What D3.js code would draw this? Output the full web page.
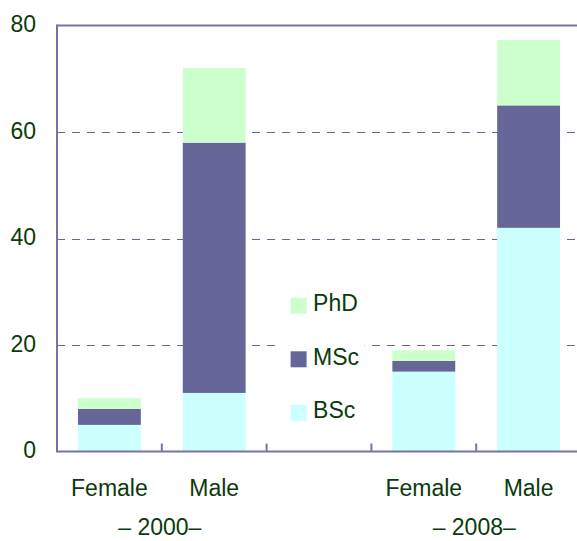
<!DOCTYPE html>
<html>
<head>
<meta charset="utf-8">
<script src="https://cdn.jsdelivr.net/npm/d3@7"></script>
<style>
  body { margin: 0; background: #fff; }
  text { font-family: "Liberation Sans", Arial, sans-serif; fill: #0b3a0b; }
</style>
</head>
<body>
<div class="chart"></div>
<script>
// Chart values
const years = ['2000', '2008'];
const genders = ['Female', 'Male'];
const degrees = ['BSc', 'MSc', 'PhD'];
const bsc = [5, 11, 15, 42];
const msc = [3, 47, 2, 23];
const phd = [2, 14, 2, 12.3];
const yTicks = [0, 20, 40, 60, 80];

const colors = { BSc: '#ccffff', MSc: '#666699', PhD: '#ccffcc' };
const axisColor = '#7474aa';

const width = 577, height = 541;
const margin = { left: 57, top: 25.5, right: -4, bottom: 89.5 };

// slots: two bars per year, one empty slot in between
const slots = ['2000 Female', '2000 Male', 'gap', '2008 Female', '2008 Male'];
const bars = [];
years.forEach((yr, i) => {
  genders.forEach((g, j) => {
    let k = i * 2 + j;
    bars.push({ slot: `${yr} ${g}`, gender: g, BSc: bsc[k], MSc: msc[k], PhD: phd[k] });
  });
});

const svg = d3.select('.chart').append('svg')
  .attr('width', width)
  .attr('height', height);

const xScale = d3.scaleBand()
  .domain(slots)
  .range([margin.left, width - margin.right])
  .padding(0);

const yScale = d3.scaleLinear()
  .domain([0, 80])
  .range([height - margin.bottom, margin.top]);

const barW = xScale.bandwidth() * 0.6;

// Grid lines
svg.append('g')
   .selectAll('line')
   .data(yTicks.filter(d => d > 0 && d < 80))
   .join('line')
   .attr('x1', margin.left)
   .attr('x2', width - margin.right)
   .attr('y1', d => Math.round(yScale(d)) + 0.5)
   .attr('y2', d => Math.round(yScale(d)) + 0.5)
   .attr('stroke', '#66669e')
   .attr('stroke-width', 1)
   .attr('stroke-dasharray', '8,7');

// Stacked bars
const stack = d3.stack().keys(degrees);
const series = stack(bars);

svg.append('g')
   .selectAll('g')
   .data(series)
   .join('g')
   .attr('fill', d => colors[d.key])
   .selectAll('rect')
   .data(d => d)
   .join('rect')
   .attr('x', d => xScale(d.data.slot) + (xScale.bandwidth() - barW) / 2)
   .attr('y', d => yScale(d[1]))
   .attr('width', barW)
   .attr('height', d => yScale(d[0]) - yScale(d[1]));

// Legend (white box cuts the grid line)
const legend = svg.append('g')
  .attr('transform', `translate(${xScale('gap')}, 0)`);

legend.append('rect')
  .attr('x', 14)
  .attr('y', 285)
  .attr('width', 84)
  .attr('height', 145)
  .attr('fill', '#fff');

const legendItems = degrees.slice().reverse();
legendItems.forEach((key, i) => {
  let cy = 305.8 + i * 53.5;
  legend.append('rect')
        .attr('x', 24)
        .attr('y', cy - 8)
        .attr('width', 16)
        .attr('height', 16)
        .attr('fill', colors[key]);
  legend.append('text')
        .attr('x', 46.5)
        .attr('y', cy + 5.5)
        .attr('font-size', 23)
        .text(key);
});

// Axes frame
const x0 = margin.left, x1 = width - margin.right;
const yTop = yScale(80), yBot = yScale(0);

svg.append('line')
   .attr('x1', x0).attr('x2', x1)
   .attr('y1', yTop).attr('y2', yTop)
   .attr('stroke', axisColor).attr('stroke-width', 2);
svg.append('line')
   .attr('x1', x0).attr('x2', x1)
   .attr('y1', yBot).attr('y2', yBot)
   .attr('stroke', axisColor).attr('stroke-width', 2);
svg.append('line')
   .attr('x1', x0).attr('x2', x0)
   .attr('y1', yTop - 1).attr('y2', yBot + 1)
   .attr('stroke', axisColor).attr('stroke-width', 2);

// Category boundary ticks
svg.append('g')
   .selectAll('line')
   .data(slots.slice(1))
   .join('line')
   .attr('x1', d => xScale(d))
   .attr('x2', d => xScale(d))
   .attr('y1', yBot - 8)
   .attr('y2', yBot)
   .attr('stroke', axisColor)
   .attr('stroke-width', 2);

// Y tick labels
svg.append('g')
   .selectAll('text')
   .data(yTicks)
   .join('text')
   .attr('x', 36)
   .attr('y', d => yScale(d) + 6.8)
   .attr('text-anchor', 'end')
   .attr('font-size', 23)
   .text(d => d);

// X category labels
svg.append('g')
   .selectAll('text')
   .data(bars)
   .join('text')
   .attr('x', d => xScale(d.slot) + xScale.bandwidth() / 2)
   .attr('y', 496)
   .attr('text-anchor', 'middle')
   .attr('font-size', 23)
   .text(d => d.gender);

// Year group labels
svg.append('g')
   .selectAll('text')
   .data(years)
   .join('text')
   .attr('x', d => xScale(`${d} Male`) - 2)
   .attr('y', 535)
   .attr('text-anchor', 'middle')
   .attr('font-size', 23)
   .text(d => `\u2013 ${d}\u2013`);
</script>
</body>
</html>
